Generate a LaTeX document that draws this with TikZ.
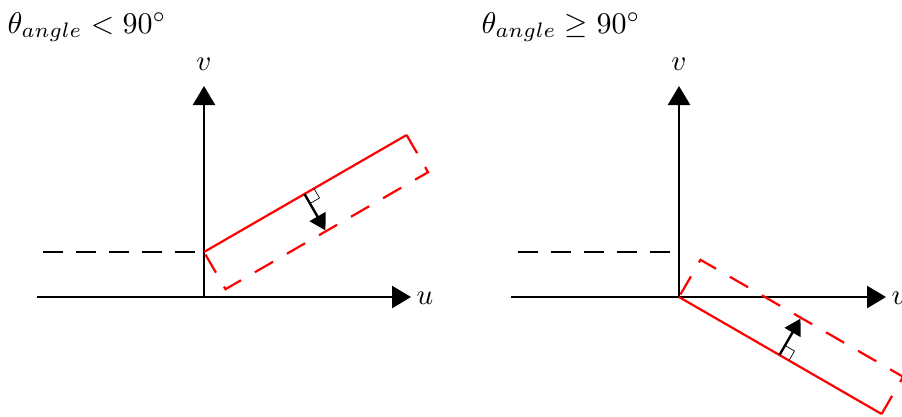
\documentclass[tikz,border=0pt]{standalone}
\usepackage{graphicx}
\usetikzlibrary{arrows.meta}
\newcommand{\bigmath}[2]{\scalebox{#1}{$#2$}}
\begin{document}
\begin{tikzpicture}[x=1pt, y=-1pt,
    axis/.style={line width=2.6pt, -{Triangle[length=19pt,width=22pt]}},
    guide/.style={line width=2.2pt, dash pattern=on 20pt off 13pt},
    edge/.style={red, line width=2.2pt},
    edgedash/.style={red, line width=2.2pt, dash pattern=on 21pt off 16pt},
    normal/.style={line width=2.4pt, -{Triangle[length=16pt,width=18pt]}},
    corner/.style={line width=0.7pt},
    title/.style={anchor=base west}]
    \useasboundingbox (0,0) rectangle (902,416);

    % left: angle below 90
    \node[title] (t1) at (4,33) {\bigmath{3}{\theta_{angle} < 90^\circ}};
    \coordinate (o1) at (204,297);
    \coordinate (us1) at (37,297);
    \coordinate (ue1) at (411,297);
    \coordinate (ve1) at (204,86);
    \coordinate (gs1) at (43,252);
    \coordinate (p1) at (204,252);
    \coordinate (p2) at (406.6,135);
    \coordinate (p3) at (428.1,172.2);
    \coordinate (p4) at (225.5,289.2);
    \coordinate (a1) at (304.5,194);
    \coordinate (b1) at (325.5,230.4);
    \node (u1) at (425,298) {\bigmath{2.9}{u}};
    \node (v1) at (204,64) {\bigmath{2.9}{v}};
    \draw[axis] (us1) -- (ue1);
    \draw[axis] (o1) -- (ve1);
    \draw[guide] (gs1) -- (p1);
    \draw[edge] (p1) -- (p2);
    \draw[edgedash] (p2) -- (p3) -- (p4) -- (p1);
    \draw[corner] (314,188.5) -- (319.5,198) -- (310,203.5);
    \draw[normal] (a1) -- (b1);

    % right: angle 90 or more
    \node[title] (t2) at (478,33) {\bigmath{3}{\theta_{angle} \geq 90^\circ}};
    \coordinate (o2) at (679,297);
    \coordinate (us2) at (511,297);
    \coordinate (ue2) at (886,297);
    \coordinate (ve2) at (679,86);
    \coordinate (gs2) at (518,252);
    \coordinate (gt2) at (679,252);
    \coordinate (q2) at (881.6,414);
    \coordinate (q3) at (903.1,376.8);
    \coordinate (q4) at (700.5,259.8);
    \coordinate (a2) at (779.5,355);
    \coordinate (b2) at (800.5,318.6);
    \node (u2) at (900,298) {\bigmath{2.9}{u}};
    \node (v2) at (679,64) {\bigmath{2.9}{v}};
    \draw[axis] (us2) -- (ue2);
    \draw[axis] (o2) -- (ve2);
    \draw[guide] (gs2) -- (gt2);
    \draw[edge] (o2) -- (q2);
    \draw[edgedash] (q2) -- (q3) -- (q4) -- (o2);
    \draw[corner] (789,360.5) -- (794.5,351) -- (785,345.5);
    \draw[normal] (a2) -- (b2);
\end{tikzpicture}
\end{document}
